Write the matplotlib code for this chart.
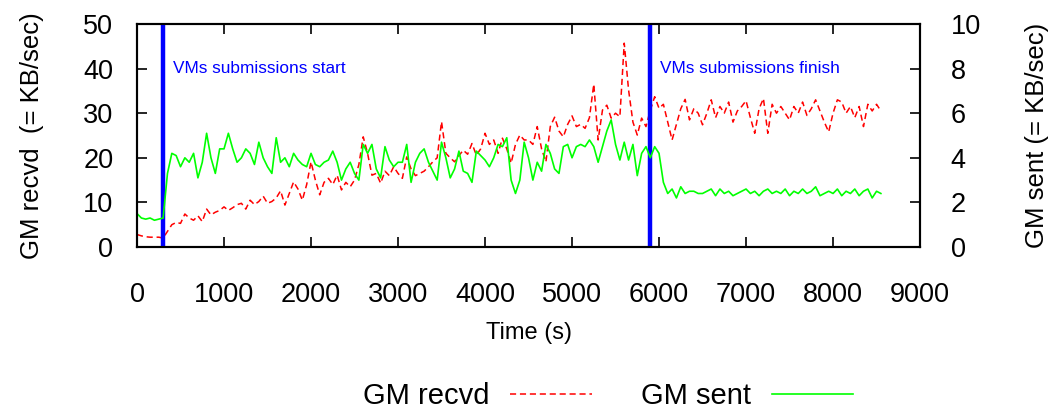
import matplotlib
matplotlib.use("Agg")
import matplotlib.pyplot as plt

plt.rcParams['font.family'] = ['Liberation Sans', 'DejaVu Sans']

time_s = list(range(0, 8600, 50))

recvd = [
    2.8, 2.5, 2.3, 2.2, 2.2, 2.2, 2.0, 3.5, 5.0, 5.5,
    5.3, 7.4, 6.5, 6.0, 7.0, 5.7, 8.5, 7.2, 7.8, 8.2,
    9.0, 8.2, 8.8, 9.5, 9.8, 8.5, 10.5, 9.5, 10.2, 11.4,
    9.8, 10.2, 11.0, 12.6, 9.4, 12.0, 14.6, 13.0, 10.5, 14.0,
    19.1, 15.0, 11.7, 14.5, 15.4, 14.0, 16.1, 12.8, 14.5, 13.5,
    15.0, 18.5, 24.7, 21.0, 16.1, 16.5, 14.3, 17.0, 16.0, 18.0,
    16.5, 15.4, 20.2, 17.5, 16.0, 16.5, 17.0, 18.0, 19.1, 20.0,
    28.1, 21.0, 20.0, 19.1, 20.5, 21.7, 20.8, 23.2, 20.6, 22.0,
    25.5, 23.0, 24.0, 21.0, 24.4, 22.0, 18.8, 23.0, 25.1, 24.0,
    24.0, 23.0, 27.0, 22.0, 19.1, 27.0, 29.1, 26.0, 24.7, 27.5,
    29.4, 27.0, 27.5, 26.6, 29.0, 36.5, 24.0, 30.7, 31.8, 28.9,
    30.0, 29.2, 45.7, 35.2, 28.0, 25.1, 28.9, 27.0, 30.7, 33.7,
    31.1, 32.0, 28.0, 24.0, 27.5, 31.0, 33.1, 28.5, 31.0, 30.0,
    27.4, 30.0, 33.0, 29.0, 31.5, 30.0, 32.5, 28.0, 30.5, 31.5,
    32.8, 29.0, 25.5, 31.0, 33.3, 25.5, 32.0, 30.0, 31.5, 30.0,
    28.5, 31.5, 30.0, 32.5, 29.5, 31.0, 33.0, 30.5, 28.0, 25.8,
    30.0, 33.0, 32.5, 30.0, 31.5, 29.0, 31.5, 27.0, 32.0, 30.5, 32.0, 30.5,
]

sent = [
    1.5, 1.3, 1.25, 1.3, 1.2, 1.25, 1.3, 3.3, 4.2, 4.1,
    3.6, 4.0, 3.8, 4.2, 3.1, 3.8, 5.1, 4.0, 3.3, 4.4,
    4.4, 5.1, 4.4, 3.8, 4.0, 4.4, 4.2, 3.7, 4.7, 4.0,
    3.6, 3.3, 4.9, 3.8, 4.0, 3.6, 4.2, 3.9, 3.7, 3.6,
    4.2, 3.7, 3.6, 3.8, 3.9, 4.3, 3.8, 3.0, 3.5, 3.8,
    3.3, 3.0, 4.6, 4.2, 4.6, 3.5, 3.1, 4.5, 3.9, 3.6,
    3.8, 3.8, 4.6, 2.9, 3.8, 4.2, 4.4, 3.8, 3.4, 3.0,
    4.7, 4.0, 3.1, 3.5, 4.3, 3.4, 3.3, 2.9, 4.3, 4.1,
    3.9, 3.6, 4.0, 4.6, 4.5, 4.9, 3.0, 2.4, 3.0, 4.7,
    4.0, 3.0, 3.8, 3.4, 4.6, 4.2, 3.5, 3.3, 4.5, 4.6,
    4.0, 4.5, 4.6, 4.5, 4.8, 4.5, 3.8, 4.5, 5.2, 5.7,
    4.6, 3.9, 4.7, 3.9, 4.6, 3.2, 4.2, 4.5, 4.0, 4.5,
    4.2, 2.9, 2.4, 2.6, 2.2, 2.7, 2.4, 2.5, 2.5, 2.4,
    2.4, 2.5, 2.6, 2.3, 2.6, 2.4, 2.5, 2.3, 2.4, 2.5,
    2.6, 2.4, 2.5, 2.3, 2.5, 2.6, 2.4, 2.5, 2.4, 2.6,
    2.3, 2.5, 2.4, 2.6, 2.4, 2.5, 2.7, 2.3, 2.4, 2.5,
    2.4, 2.6, 2.3, 2.5, 2.4, 2.6, 2.3, 2.5, 2.6, 2.2, 2.5, 2.4,
]

events_t = [300, 5900]
events_label = ["VMs submissions start", "VMs submissions finish"]

x_ticks = list(range(0, 10000, 1000))
left_ticks = [0, 10, 20, 30, 40, 50]
right_ticks = [0, 2, 4, 6, 8, 10]

fig = plt.figure(figsize=(10.54, 4.08), dpi=100)
ax = fig.add_axes([0.13, 0.3946, 0.7429, 0.5466])
ax2 = ax.twinx()

l1, = ax.plot(time_s, recvd, color='#ff0000', lw=1.1, dashes=(4, 2.5), label='GM recvd')
l2, = ax2.plot(time_s, sent, color='#00ff00', lw=1.2, label='GM sent')

for t, lab in zip(events_t, events_label):
    ax.axvline(t, color='#0000ff', lw=3.2, zorder=5)
    ax.text(t + 110, 40, lab, color='#0000ff', fontsize=12.4, va='center', ha='left')

ax.set_xlim(0, 9000)
ax.set_ylim(0, 50)
ax2.set_ylim(0, 10)
ax.set_xticks(x_ticks)
ax.set_yticks(left_ticks)
ax2.set_yticks(right_ticks)

ax.tick_params(axis='x', direction='in', top=True, length=7, width=1.2, labelsize=19.5, pad=25)
ax.tick_params(axis='y', direction='in', length=7, width=1.2, labelsize=19.5, pad=17)
ax2.tick_params(axis='y', direction='in', length=7, width=1.2, labelsize=19.5, pad=22)
for a in (ax, ax2):
    for s in a.spines.values():
        s.set_linewidth(1.5)

ax.set_xlabel('Time (s)', fontsize=17, labelpad=10)
ax.set_ylabel('GM recvd  (= KB/sec)', fontsize=18.5, labelpad=28)
ax2.set_ylabel('GM sent (= KB/sec)', fontsize=18.5, labelpad=32)

fig.legend([l1, l2], ['GM recvd', 'GM sent'], loc='center', bbox_to_anchor=(0.577, 0.03),
           ncol=2, frameon=False, markerfirst=False, fontsize=21, handlelength=2.8,
           columnspacing=1.7, handletextpad=0.7)

fig.savefig('out.png', dpi=100)
